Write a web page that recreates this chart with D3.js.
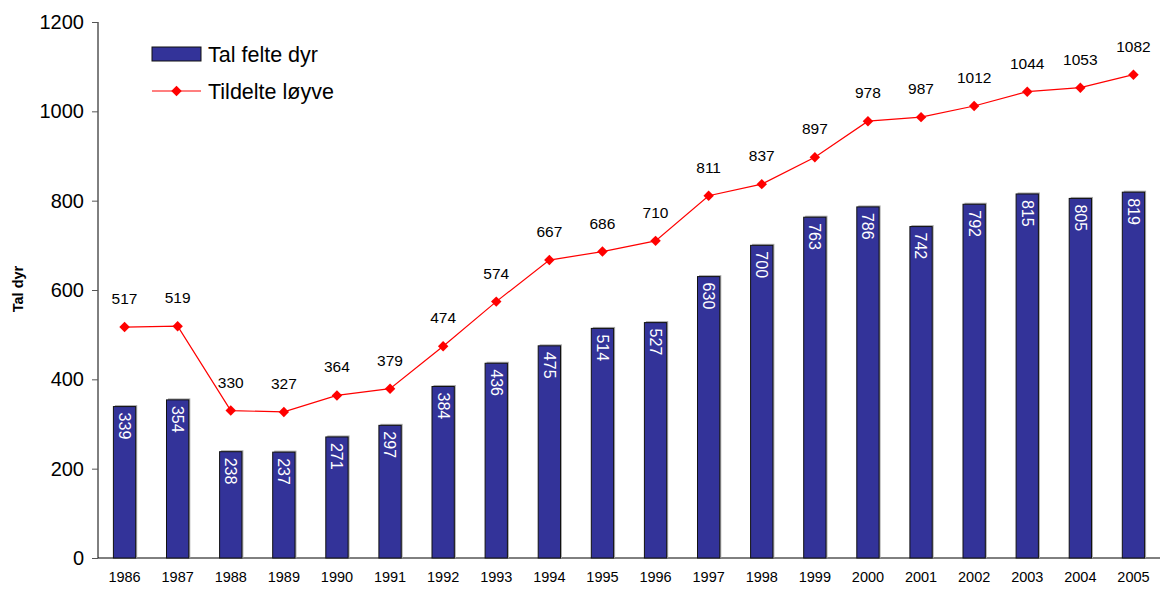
<!DOCTYPE html>
<html><head><meta charset="utf-8">
<script src="https://cdn.jsdelivr.net/npm/d3@7"></script>
<style>body{margin:0;background:#fff;} svg{display:block;font-family:"Liberation Sans",Arial,sans-serif;}</style>
</head><body>
<svg id="c" width="1163" height="590"></svg>
<script>
const years = ["1986","1987","1988","1989","1990","1991","1992","1993","1994","1995","1996","1997","1998","1999","2000","2001","2002","2003","2004","2005"];
const felte = [339,354,238,237,271,297,384,436,475,514,527,630,700,763,786,742,792,815,805,819];
const loyve = [517,519,330,327,364,379,474,574,667,686,710,811,837,897,978,987,1012,1044,1053,1082];
const yTicks = [0,200,400,600,800,1000,1200];

const svg = d3.select("#c");
const x = d3.scaleBand().domain(years).range([98,1160]).paddingInner(0.58).paddingOuter(0.29);
const y = d3.scaleLinear().domain([0,1200]).range([558,22]);

// y axis
const ya = svg.append("g").attr("transform","translate(98,0)")
  .call(d3.axisLeft(y).tickValues(yTicks).tickFormat(d3.format("d")).tickSize(6).tickPadding(8));
ya.select(".domain").attr("stroke","#000").attr("d","M0,22V558");
ya.selectAll(".tick line").attr("stroke","#555");
ya.selectAll("text").attr("font-size",20).attr("fill","#000").attr("font-family","Liberation Sans, Arial, sans-serif");

// x axis
const xa = svg.append("g").attr("transform","translate(0,558)")
  .call(d3.axisBottom(x).tickSize(0).tickPadding(14));
xa.select(".domain").attr("stroke","#000").attr("d","M98,0H1160");
xa.selectAll("text").attr("font-size",14.5).attr("fill","#000").attr("font-family","Liberation Sans, Arial, sans-serif");

// axis title
svg.append("text").attr("transform","translate(23,289) rotate(-90)")
  .attr("text-anchor","middle").attr("font-size",14.5).attr("font-weight","bold").text("Tal dyr");

// bars with shadow
const bw = x.bandwidth();
svg.append("g").selectAll("rect").data(felte).join("rect")
  .attr("x",(d,i)=>x(years[i])+1.5).attr("y",d=>y(d)-1.5)
  .attr("width",bw).attr("height",d=>558-y(d)+1.5).attr("fill","#aaa");
svg.append("g").selectAll("rect").data(felte).join("rect")
  .attr("x",(d,i)=>x(years[i])).attr("y",d=>y(d))
  .attr("width",bw).attr("height",d=>558-y(d))
  .attr("fill","#333399").attr("stroke","#111").attr("stroke-width",1);
svg.append("g").selectAll("text").data(felte).join("text")
  .attr("transform",(d,i)=>`translate(${x(years[i])+bw/2},${y(d)+6}) rotate(90)`)
  .attr("dy","0.35em").attr("text-anchor","start")
  .attr("fill","#fff").attr("font-size",16).text(d=>d);

// line
const cx = i => x(years[i]) + bw/2;
const line = d3.line().x((d,i)=>cx(i)).y(d=>y(d));
svg.append("path").datum(loyve).attr("d",line).attr("fill","none").attr("stroke","#ff0000").attr("stroke-width",1.2);
svg.append("g").selectAll("rect").data(loyve).join("rect")
  .attr("x",-3.7).attr("y",-3.7).attr("width",7.4).attr("height",7.4)
  .attr("transform",(d,i)=>`translate(${cx(i)},${y(d)}) rotate(45)`)
  .attr("fill","#ff0000");
svg.append("g").selectAll("text").data(loyve).join("text")
  .attr("x",(d,i)=>cx(i)).attr("y",d=>y(d)-23)
  .attr("text-anchor","middle").attr("font-size",15.5).attr("fill","#000").text(d=>d);

// legend
const lg = svg.append("g");
lg.append("rect").attr("x",152).attr("y",47).attr("width",49).attr("height",14)
  .attr("fill","#333399").attr("stroke","#111");
lg.append("text").attr("x",208).attr("y",54).attr("dy","0.35em").attr("font-size",21.5).text("Tal felte dyr");
lg.append("line").attr("x1",152).attr("x2",201).attr("y1",91).attr("y2",91).attr("stroke","#ff0000").attr("stroke-width",1.2);
lg.append("rect").attr("x",-3.7).attr("y",-3.7).attr("width",7.4).attr("height",7.4)
  .attr("transform","translate(176.5,91) rotate(45)").attr("fill","#ff0000");
lg.append("text").attr("x",208).attr("y",91).attr("dy","0.35em").attr("font-size",21.5).text("Tildelte løyve");
</script>
</body></html>
